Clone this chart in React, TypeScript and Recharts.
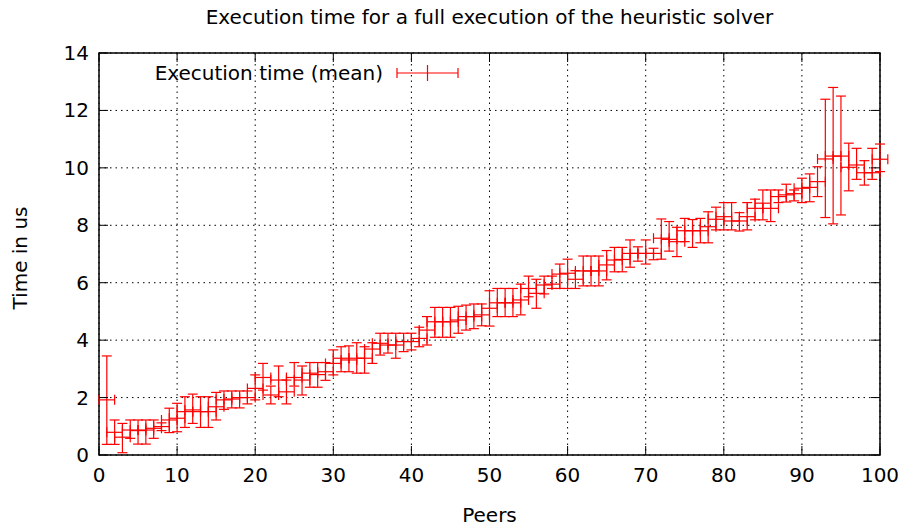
import { ScatterChart, Scatter, XAxis, YAxis, CartesianGrid, ErrorBar, ReferenceArea } from 'recharts';

// peers measured
const peers = [
  1, 2, 3, 4, 5, 6, 7, 8, 9, 10,
  11, 12, 13, 14, 15, 16, 17, 18, 19, 20,
  21, 22, 23, 24, 25, 26, 27, 28, 29, 30,
  31, 32, 33, 34, 35, 36, 37, 38, 39, 40,
  41, 42, 43, 44, 45, 46, 47, 48, 49, 50,
  51, 52, 53, 54, 55, 56, 57, 58, 59, 60,
  61, 62, 63, 64, 65, 66, 67, 68, 69, 70,
  71, 72, 73, 74, 75, 76, 77, 78, 79, 80,
  81, 82, 83, 84, 85, 86, 87, 88, 89, 90,
  91, 92, 93, 94, 95, 96, 97, 98, 99, 100,
];

// mean execution time (us)
const meanTime = [
  1.92, 0.79, 0.62, 0.87, 0.85, 0.87, 0.93, 0.99, 1.22, 1.28,
  1.51, 1.57, 1.51, 1.51, 1.68, 1.92, 1.95, 2.0, 2.0, 2.32,
  2.7, 2.09, 2.61, 2.2, 2.7, 2.61, 2.85, 2.8, 2.9, 3.19,
  3.37, 3.31, 3.37, 3.37, 3.69, 3.89, 3.83, 3.83, 3.95, 3.95,
  4.06, 4.35, 4.64, 4.64, 4.64, 4.7, 4.82, 4.82, 4.88, 5.11,
  5.3, 5.3, 5.3, 5.4, 5.8, 5.63, 5.92, 5.95, 6.3, 6.33,
  6.12, 6.41, 6.41, 6.41, 6.62, 6.79, 6.81, 7.02, 7.02, 7.02,
  7.02, 7.55, 7.51, 7.43, 7.81, 7.81, 7.81, 7.95, 8.21, 8.3,
  8.15, 8.15, 8.3, 8.59, 8.77, 8.59, 9.0, 9.06, 9.1, 9.29,
  9.32, 9.52, 10.31, 10.41, 10.41, 10.02, 10.1, 9.83, 9.83, 10.3,
];

// lower end of the error bar
const lowTime = [
  0.37, 0.37, 0.08, 0.58, 0.38, 0.38, 0.58, 0.85, 0.78, 0.81,
  0.96, 1.1, 0.96, 0.96, 1.22, 1.59, 1.64, 1.64, 1.78, 1.92,
  2.26, 1.78, 2.03, 1.78, 2.4, 2.09, 2.36, 2.36, 2.6, 2.79,
  2.9, 2.9, 2.85, 2.85, 3.19, 3.48, 3.55, 3.37, 3.6, 3.66,
  3.77, 3.83, 4.1, 4.1, 4.1, 4.24, 4.35, 4.4, 4.5, 4.49,
  4.82, 4.82, 4.82, 4.88, 5.51, 5.11, 5.61, 5.8, 5.8, 5.8,
  5.8, 5.89, 5.89, 5.89, 6.1, 6.38, 6.38, 6.54, 6.75, 6.65,
  6.8, 6.82, 7.1, 6.91, 7.43, 7.23, 7.39, 7.39, 7.84, 7.84,
  7.84, 7.8, 7.84, 8.19, 8.19, 8.13, 8.79, 8.81, 8.85, 8.79,
  8.82, 9.0, 8.27, 8.05, 8.36, 9.2, 9.6, 9.4, 9.6, 9.87,
];

// upper end of the error bar
const highTime = [
  3.45, 1.22, 1.1, 1.22, 1.22, 1.22, 1.22, 1.12, 1.63, 1.8,
  2.03, 2.12, 2.03, 2.03, 2.18, 2.23, 2.23, 2.23, 2.23, 2.79,
  3.19, 2.4, 3.1, 2.61, 3.22, 3.1, 3.22, 3.22, 3.22, 3.66,
  3.77, 3.8, 3.91, 3.77, 3.91, 4.24, 4.24, 4.24, 4.24, 4.24,
  4.45, 4.82, 5.14, 5.14, 5.14, 5.18, 5.22, 5.26, 5.26, 5.72,
  5.8, 5.8, 5.8, 5.95, 6.23, 6.12, 6.23, 6.23, 6.65, 6.82,
  6.42, 6.93, 6.93, 6.93, 7.12, 7.23, 7.23, 7.49, 7.25, 7.49,
  7.2, 8.22, 8.13, 7.93, 8.24, 8.2, 8.24, 8.47, 8.63, 8.79,
  8.79, 8.44, 8.79, 8.91, 9.23, 9.23, 9.23, 9.43, 9.23, 9.64,
  9.79, 10.04, 12.39, 12.8, 12.5, 10.86, 10.68, 10.25, 10.68, 10.83,
];

const PEER_ERR = 1;
const xTicks = [0, 10, 20, 30, 40, 50, 60, 70, 80, 90, 100];
const yTicks = [0, 2, 4, 6, 8, 10, 12, 14];

const data = peers.map((p, i) => ({
  peers: p,
  time: meanTime[i],
  ex: PEER_ERR,
  ey: [meanTime[i] - lowTime[i], highTime[i] - meanTime[i]],
}));

const W = 906;
const H = 527;
const PL = 99;
const PR = 880;
const PT = 53;
const PB = 455;
const FONT = '"DejaVu Sans", sans-serif';
const FS = 20;

function XTick({ x, payload }: any) {
  return (
    <g>
      <line x1={x} x2={x} y1={PB} y2={PB - 9} stroke="#000" />
      <line x1={x} x2={x} y1={PT} y2={PT + 9} stroke="#000" />
      <text x={x} y={PB + 20} textAnchor="middle" dominantBaseline="central" fontSize={FS} fontFamily={FONT} fill="#000">
        {payload.value}
      </text>
    </g>
  );
}

function YTick({ y, payload }: any) {
  return (
    <g>
      <line x1={PL} x2={PL + 9} y1={y} y2={y} stroke="#000" />
      <line x1={PR - 9} x2={PR} y1={y} y2={y} stroke="#000" />
      <text x={PL - 10} y={y} textAnchor="end" dominantBaseline="central" fontSize={FS} fontFamily={FONT} fill="#000">
        {payload.value}
      </text>
    </g>
  );
}

export default function App() {
  return (
    <div style={{ position: 'absolute', left: 0, top: 0, width: W, height: H, background: '#fff', fontFamily: FONT }}>
      <ScatterChart width={W} height={H} margin={{ top: PT, right: W - PR, bottom: 0, left: 0 }}>
        <CartesianGrid stroke="#000" strokeDasharray="1.5 4" horizontalValues={yTicks} verticalValues={xTicks} />
        <XAxis
          type="number"
          dataKey="peers"
          domain={[0, 100]}
          allowDataOverflow
          ticks={xTicks}
          interval={0}
          tick={<XTick />}
          tickLine={false}
          axisLine={false}
          height={H - PB}
        />
        <YAxis
          type="number"
          dataKey="time"
          domain={[0, 14]}
          allowDataOverflow
          ticks={yTicks}
          interval={0}
          tick={<YTick />}
          tickLine={false}
          axisLine={false}
          width={PL}
        />
        <ReferenceArea x1={0} x2={100} y1={0} y2={14} fill="none" fillOpacity={0} stroke="#000" strokeWidth={1.5} />
        <Scatter data={data} shape={() => <g />} isAnimationActive={false}>
          <ErrorBar dataKey="ey" direction="y" width={5} stroke="#ff0000" strokeWidth={1.2} isAnimationActive={false} />
          <ErrorBar dataKey="ex" direction="x" width={5} stroke="#ff0000" strokeWidth={1.2} isAnimationActive={false} />
        </Scatter>
      </ScatterChart>

      <div style={{ position: 'absolute', left: 0, width: 979, top: 4, textAlign: 'center', fontSize: FS, lineHeight: '26px' }}>
        Execution time for a full execution of the heuristic solver
      </div>
      <div style={{ position: 'absolute', left: 0, width: 979, top: 502, textAlign: 'center', fontSize: FS, lineHeight: '26px' }}>
        Peers
      </div>
      <div
        style={{
          position: 'absolute',
          left: 20 - 100,
          top: 258 - 13,
          width: 200,
          textAlign: 'center',
          fontSize: FS,
          lineHeight: '26px',
          transform: 'rotate(-90deg)',
        }}
      >
        Time in us
      </div>
      <div style={{ position: 'absolute', left: 100, width: 283, top: 60, textAlign: 'right', fontSize: FS, lineHeight: '26px' }}>
        Execution time (mean)
      </div>
      <svg style={{ position: 'absolute', left: 390, top: 60 }} width={76} height={26}>
        <line x1={7} x2={68} y1={13} y2={13} stroke="#ff0000" strokeWidth={1.2} />
        <line x1={7} x2={7} y1={8} y2={18} stroke="#ff0000" strokeWidth={1.2} />
        <line x1={68} x2={68} y1={8} y2={18} stroke="#ff0000" strokeWidth={1.2} />
        <line x1={37.5} x2={37.5} y1={5} y2={21} stroke="#ff0000" strokeWidth={1.2} />
      </svg>
    </div>
  );
}
